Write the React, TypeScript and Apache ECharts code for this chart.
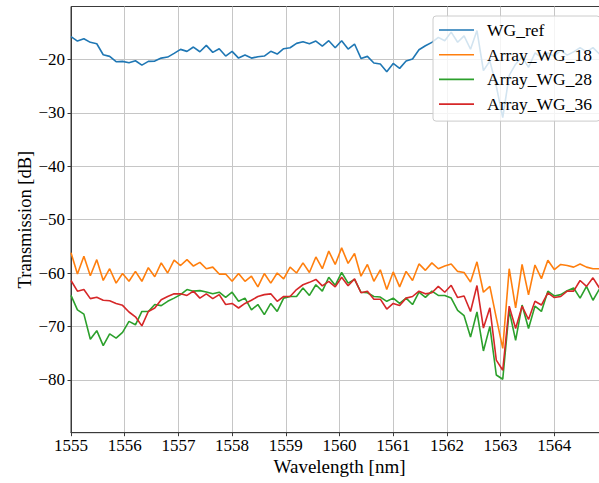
import React, { useEffect, useRef } from "react";
import * as echarts from "echarts";

// Wavelength sampling grid (nm)
const WL_START = 1555;
const WL_STEP = 0.12;

// Measured transmission (dB) for each waveguide, one value per wavelength sample
const wgRef = [
  -15.75, -16.57, -16.13, -16.81, -17.07, -19.13, -19.44, -20.44, -20.38, -20.63,
  -20.26, -21.07, -20.38, -20.32, -19.76, -19.57, -18.88, -18.13, -18.5, -17.69,
  -18.57, -17.38, -18.69, -18.0, -19.38, -18.5, -19.76, -19.19, -19.76, -19.51,
  -19.38, -18.5, -19.0, -18.0, -17.82, -17.0, -16.69, -17.07, -16.57, -17.5,
  -16.5, -17.82, -16.5, -18.07, -17.13, -19.82, -19.44, -20.69, -20.88, -22.32,
  -20.76, -21.69, -20.32, -19.94, -18.19, -17.44, -16.81, -15.88, -16.5, -14.9,
  -16.8, -15.6, -18.1, -14.6, -22.1, -20.3, -25.0, -30.9, -23.0, -20.9,
  -19.5, -21.5, -18.8, -19.6, -18.8, -19.4, -18.3, -19.2, -18.6, -17.8,
  -18.6, -17.8, -19.0,
];

const arrayWg18 = [
  -56.2, -60.2, -56.85, -60.5, -57.5, -61.4, -59.2, -61.9, -60.1, -61.55,
  -59.7, -61.55, -59.0, -60.7, -58.1, -60.0, -57.6, -58.6, -57.5, -58.7,
  -58.0, -59.2, -58.9, -60.2, -60.2, -61.55, -60.1, -61.55, -60.6, -62.6,
  -60.1, -61.9, -60.0, -61.1, -58.9, -60.0, -58.1, -59.9, -57.0, -59.2,
  -55.9, -58.4, -55.3, -58.2, -56.35, -60.6, -58.4, -61.55, -59.4, -63.1,
  -59.8, -62.6, -59.7, -61.4, -58.3, -59.5, -58.1, -59.2, -58.7, -58.3,
  -59.7, -59.9, -61.7, -57.9, -63.6, -62.5, -68.4, -74.1, -59.2, -66.55,
  -58.4, -64.1, -58.5, -61.05, -57.6, -59.35, -58.4, -58.6, -58.9, -58.3,
  -58.9, -59.2, -59.2,
];

const arrayWg28 = [
  -64.2, -66.9, -67.7, -72.4, -70.8, -73.6, -71.4, -72.2, -71.1, -69.05,
  -69.7, -67.2, -67.2, -65.9, -66.1, -65.3, -64.7, -64.05, -63.1, -63.4,
  -63.3, -63.55, -63.9, -63.6, -64.55, -63.6, -65.3, -64.7, -66.9, -65.9,
  -67.8, -65.7, -67.2, -64.7, -64.4, -64.4, -62.8, -64.2, -62.2, -63.4,
  -60.8, -62.3, -59.9, -61.9, -61.2, -63.6, -63.7, -64.4, -64.5, -65.3,
  -64.7, -65.7, -64.7, -65.9, -63.6, -64.55, -63.4, -64.2, -64.2, -64.7,
  -67.0, -68.0, -72.0, -67.3, -74.6, -70.0, -79.1, -79.9, -67.0, -72.6,
  -66.0, -70.4, -66.2, -67.2, -63.4, -64.3, -64.05, -63.3, -62.8, -64.7,
  -62.5, -65.1, -63.0,
];

const arrayWg36 = [
  -61.4, -63.4, -63.1, -64.8, -64.55, -65.1, -65.2, -65.7, -66.05, -67.3,
  -68.2, -69.9, -67.2, -66.55, -65.0, -64.4, -63.9, -63.9, -64.2, -63.4,
  -64.7, -63.9, -64.8, -64.05, -65.9, -65.7, -66.55, -65.7, -65.1, -64.4,
  -64.05, -63.9, -65.3, -64.4, -64.4, -63.1, -62.2, -61.75, -61.2, -62.4,
  -61.55, -62.6, -60.8, -62.4, -61.1, -63.7, -63.4, -64.9, -64.9, -66.75,
  -65.7, -66.1, -64.7, -64.4, -63.4, -63.9, -63.7, -62.5, -63.6, -62.3,
  -64.6, -64.3, -67.2, -62.35, -70.3, -66.5, -76.3, -78.2, -66.2, -70.4,
  -66.2, -68.7, -65.3, -66.0, -63.7, -64.6, -64.4, -63.4, -63.4, -61.4,
  -62.5, -60.9, -62.8,
];

const seriesNames = ["WG_ref", "Array_WG_18", "Array_WG_28", "Array_WG_36"];
const seriesValues = [wgRef, arrayWg18, arrayWg28, arrayWg36];
const seriesColors = ["#1f77b4", "#ff7f0e", "#2ca02c", "#d62728"];

const xTicks = [1555, 1556, 1557, 1558, 1559, 1560, 1561, 1562, 1563, 1564];
const yTicks = [-80, -70, -60, -50, -40, -30, -20];

const FONT = "Liberation Serif";
const SPINE = "#3a3a3a";
const GRID = "#c6c6c6";

const plain = (v: number) => String(v);
const minusSign = (v: number) => String(v).replace("-", "\u2212");

export default function App() {
  const ref = useRef<HTMLDivElement>(null);

  useEffect(() => {
    if (!ref.current) return;
    const chart = echarts.init(ref.current, undefined, { renderer: "svg" });

    const series = seriesNames.map((name, k) => ({
      name,
      type: "line",
      symbol: "none",
      showSymbol: false,
      clip: true,
      data: seriesValues[k].map((v, i) => [
        +(WL_START + i * WL_STEP).toFixed(3),
        v,
      ]),
      lineStyle: { color: seriesColors[k], width: 1.6 },
      itemStyle: { color: seriesColors[k] },
    }));

    chart.setOption({
      animation: false,
      textStyle: { fontFamily: FONT },
      grid: {
        left: 71,
        right: 32,
        top: 6.5,
        bottom: 50.3,
        show: true,
        borderColor: SPINE,
        borderWidth: 1,
        backgroundColor: "transparent",
      },
      xAxis: {
        type: "value",
        min: 1555,
        max: 1565,
        interval: 1,
        name: "Wavelength [nm]",
        nameLocation: "middle",
        nameGap: 24,
        nameMoveOverlap: false,
        nameTextStyle: { fontSize: 19, color: "#000", fontFamily: FONT },
        axisLine: { show: true, lineStyle: { color: SPINE, width: 1 } },
        axisTick: {
          show: true,
          length: 3.5,
          customValues: xTicks,
          lineStyle: { color: SPINE, width: 1 },
        },
        axisLabel: {
          customValues: xTicks,
          fontSize: 17,
          color: "#000",
          margin: 4,
          fontFamily: FONT,
          formatter: plain,
        },
        splitLine: { show: true, lineStyle: { color: GRID, width: 1 } },
      },
      yAxis: {
        type: "value",
        min: -89.9,
        max: -10.1,
        name: "Transmission [dB]",
        nameLocation: "middle",
        nameGap: 37,
        nameMoveOverlap: false,
        nameTextStyle: { fontSize: 18.5, color: "#000", fontFamily: FONT },
        axisLine: { show: true, lineStyle: { color: SPINE, width: 1 } },
        axisTick: {
          show: true,
          length: 3.5,
          customValues: yTicks,
          lineStyle: { color: SPINE, width: 1 },
        },
        axisLabel: {
          customValues: yTicks,
          fontSize: 17,
          color: "#000",
          margin: 6,
          fontFamily: FONT,
          formatter: minusSign,
        },
        splitLine: { show: true, lineStyle: { color: GRID, width: 1 } },
      },
      legend: {
        data: seriesNames,
        orient: "vertical",
        left: 433,
        top: 16,
        padding: [5, 8, 8, 6],
        icon: "path://M0,0H35V1.6H0Z",
        itemWidth: 35,
        itemHeight: 14,
        itemGap: 6.7,
        backgroundColor: "rgba(255,255,255,0.8)",
        borderColor: "#cccccc",
        borderWidth: 1,
        borderRadius: 3,
        textStyle: {
          fontSize: 17.5,
          color: "#000",
          fontFamily: FONT,
          padding: [0, 0, 0, 8],
        },
      },
      series,
    });

    return () => chart.dispose();
  }, []);

  return (
    <div
      style={{
        position: "absolute",
        left: 0,
        top: 0,
        width: 599,
        height: 483,
        overflow: "hidden",
        background: "#fff",
      }}
    >
      <div ref={ref} style={{ width: 640, height: 483 }} />
    </div>
  );
}
